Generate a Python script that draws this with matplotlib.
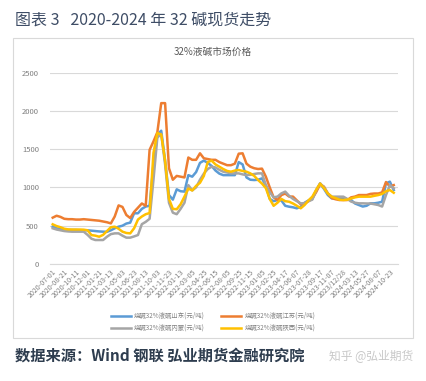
import numpy as np
import matplotlib
matplotlib.use('Agg')
import matplotlib.pyplot as plt
from matplotlib.patches import Rectangle

plt.rcParams['font.family'] = ['Noto Sans CJK SC', 'DejaVu Sans']

# tick labels of the category axis (one label every 3 points)
tick_labels = ['2020-07-01', '2020-08-21', '2020-10-11', '2020-12-01', '2021-01-21',
               '2021-03-13', '2021-05-03', '2021-06-23', '2021-08-13', '2021-10-03',
               '2021-11-23', '2022-01-13', '2022-03-05', '2022-04-25', '2022-06-15',
               '2022-08-05', '2022-09-25', '2022-11-15', '2023-01-05', '2023-02-25',
               '2023-04-17', '2023-06-07', '2023-07-28', '2023-09-17', '2023-11-07',
               '2023/12/28', '2024-03-13', '2024-05-27', '2024-08-07', '2024-10-23']
step = 3

# prices, yuan/ton
shandong = [487, 466, 455, 445, 444, 444, 444, 440, 440, 440,
            435, 430, 425, 422, 420, 440, 466, 487, 500, 528,
            540, 662, 662, 720, 750, 760, 1300, 1690, 1740, 1350,
            900, 840, 975, 950, 945, 1160, 1140, 1200, 1320, 1350,
            1320, 1280, 1220, 1180, 1160, 1160, 1160, 1160, 1330, 1300,
            1130, 1100, 1096, 1100, 1118, 1020, 850, 820, 835, 830,
            760, 748, 740, 727, 748, 800, 830, 857, 960, 1050,
            980, 900, 857, 857, 857, 857, 845, 835, 790, 770,
            750, 760, 792, 792, 800, 813, 1053, 1075, 966]
jiangsu = [605, 630, 615, 590, 585, 585, 580, 580, 585, 580,
           575, 570, 565, 555, 545, 530, 620, 765, 745, 640,
           600, 680, 735, 790, 760, 1490, 1600, 1720, 2100, 2100,
           1250, 1100, 1150, 1140, 1130, 1390, 1360, 1360, 1445, 1380,
           1370, 1360, 1360, 1330, 1310, 1290, 1290, 1310, 1440, 1445,
           1310, 1270, 1250, 1240, 1245, 1140, 1000, 870, 835, 900,
           920, 880, 880, 830, 780, 790, 820, 855, 940, 1040,
           1010, 920, 860, 845, 835, 835, 835, 870, 880, 900,
           900, 900, 915, 920, 920, 935, 1070, 1010, 1030]
neimeng = [466, 450, 440, 430, 425, 422, 422, 422, 422, 380,
           330, 313, 313, 313, 356, 390, 400, 400, 370, 344,
           344, 360, 378, 520, 550, 590, 1100, 1650, 1700, 1300,
           800, 670, 650, 720, 800, 1030, 960, 1000, 1100, 1180,
           1240, 1270, 1260, 1230, 1205, 1195, 1183, 1183, 1183, 1170,
           1160, 1165, 1175, 1183, 1183, 1030, 940, 870, 880, 922,
           945, 890, 850, 820, 792, 792, 820, 840, 966, 1053,
           1000, 920, 879, 879, 879, 879, 850, 815, 800, 792,
           792, 790, 790, 780, 770, 750, 900, 1030, 988]
shaanxi = [518, 495, 480, 460, 452, 450, 450, 450, 448, 440,
           378, 370, 356, 380, 430, 480, 487, 460, 422, 405,
           400, 466, 580, 620, 650, 665, 1450, 1710, 1690, 1350,
           850, 720, 715, 780, 880, 985, 960, 1020, 1060, 1150,
           1330, 1350, 1300, 1270, 1240, 1215, 1205, 1220, 1227, 1215,
           1205, 1183, 1150, 1096, 1050, 990, 850, 760, 800, 850,
           820, 813, 790, 760, 727, 770, 830, 880, 970, 1050,
           990, 920, 879, 860, 840, 835, 840, 855, 870, 879,
           879, 879, 879, 890, 900, 915, 950, 966, 930]

series_names = ['烧碱32%液碱山东(元/吨)', '烧碱32%液碱江苏(元/吨)',
                '烧碱32%液碱内蒙(元/吨)', '烧碱32%液碱陕西(元/吨)']
colors = ['#5B9BD5', '#ED7D31', '#A5A5A5', '#FFC000']

fig = plt.figure(figsize=(4.26, 3.81), dpi=100)
fig.patch.set_facecolor('white')

# chart frame
fig.patches.append(Rectangle((13 / 426, 1 - 338 / 381), 400 / 426, 300 / 381,
                             transform=fig.transFigure, facecolor='none',
                             edgecolor='#d9d9d9', linewidth=0.8, zorder=-1))

ax = fig.add_axes([50 / 426, 1 - 264 / 381, 348 / 426, (264 - 72.5) / 381])
ax.patch.set_alpha(0)
x = np.arange(len(shandong))
lines = []
for vals, name, c in zip([shandong, jiangsu, neimeng, shaanxi], series_names, colors):
    ln, = ax.plot(x, vals, color=c, linewidth=1.8, label=name, solid_joinstyle='round')
    lines.append(ln)

ax.set_xlim(-0.7, 89.1)
ax.set_ylim(0, 2500)
ax.set_yticks(range(0, 2501, 500))
ax.yaxis.grid(True, color='#d9d9d9', linewidth=0.8)
ax.set_axisbelow(True)
for s in ['top', 'right', 'left']:
    ax.spines[s].set_visible(False)
ax.spines['bottom'].set_color('#d9d9d9')
ax.spines['bottom'].set_linewidth(0.8)
ax.tick_params(axis='y', length=0, labelsize=5.5, labelcolor='#7f7f7f', pad=8)
ax.set_xticks(np.arange(len(tick_labels)) * step)
ax.set_xticklabels(tick_labels, rotation=45, ha='right', va='top',
                   rotation_mode='anchor', fontsize=5.1, color='#7f7f7f')
ax.tick_params(axis='x', length=0, pad=3)

fig.text(213 / 426, 1 - 52 / 381, '32%液碱市场价格', ha='center', va='center',
         fontsize=7, color='#595959')

order = [0, 2, 1, 3]
fig.legend([lines[i] for i in order], [series_names[i] for i in order],
           loc='center', bbox_to_anchor=(213 / 426, 1 - 322 / 381), ncol=2,
           frameon=False, fontsize=4.6, labelcolor='#7f7f7f', handlelength=3.2,
           handletextpad=0.5, columnspacing=2.5, labelspacing=0.6)

fig.text(15 / 426, 1 - 20 / 381, '图表 3   2020-2024 年 32 碱现货走势', ha='left',
         va='center', fontsize=11.5, color='#3e4d66')
fig.text(15 / 426, 1 - 356 / 381, '数据来源：Wind 钢联 弘业期货金融研究院', ha='left',
         va='center', fontsize=11, color='#2e3d4f', fontweight='bold')
fig.text(413 / 426, 1 - 356 / 381, '知乎 @弘业期货', ha='right', va='center',
         fontsize=8.5, color='#c8c8c8')

fig.savefig('out.png', dpi=100)
